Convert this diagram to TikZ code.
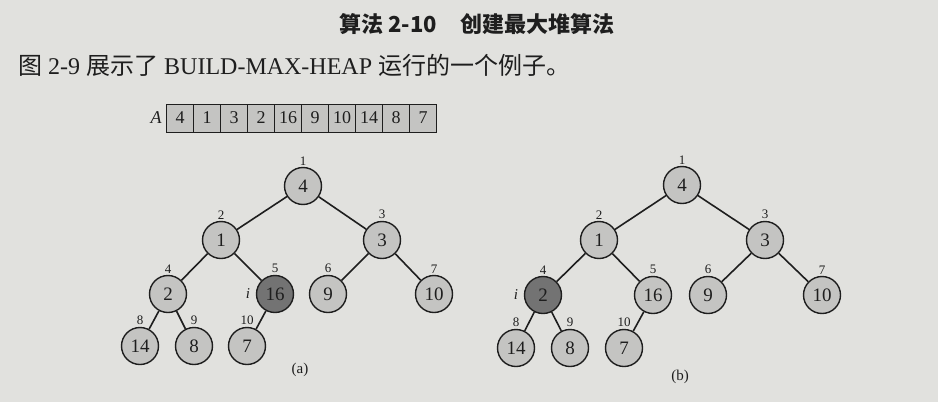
\documentclass[tikz,border=0pt]{standalone}
\usepackage{fontspec}
\setmainfont{Liberation Serif}
\newfontfamily\cjk{Noto Sans CJK SC}
\usepackage{tikz}
\usetikzlibrary{positioning}

\definecolor{paper}{RGB}{225,225,222}
\definecolor{ink}{RGB}{30,30,30}
\definecolor{keyfill}{RGB}{196,196,194}
\definecolor{hotfill}{RGB}{115,115,115}

\tikzset{
  heapnode/.style={draw=ink, circle, fill=keyfill, minimum size=37pt, inner sep=0pt, line width=1.4pt, text=ink, font=\fontsize{19}{19}\selectfont},
  hotnode/.style={heapnode, fill=hotfill},
  cell/.style={draw=ink, fill=keyfill, minimum width=27pt, minimum height=28pt, inner sep=0pt, outer sep=0pt, line width=1pt, text=ink, font=\fontsize{18}{18}\selectfont},
  idx/.style={text=ink, inner sep=1.5pt, font=\fontsize{13}{13}\selectfont},
  ivar/.style={text=ink, inner sep=1.5pt, label distance=4pt, font=\fontsize{15}{15}\selectfont\itshape},
  edge/.style={draw=ink, line width=1.6pt},
}

\begin{document}
\begin{tikzpicture}[x=1pt, y=-1pt]
			\useasboundingbox[fill=paper] (0,0) rectangle (938,402);

			% heading and text line
			\node[text=ink, font=\fontsize{22}{22}\selectfont] (title) at (477,24) {\cjk\bfseries 算法 2-10\hspace{24pt}创建最大堆算法};
			\node[text=ink, anchor=west, inner sep=0pt, font=\fontsize{24}{24}\selectfont] (intro) at (18,65) {{\cjk 图} 2-9 {\cjk 展示了} BUILD-MAX-HEAP {\cjk 运行的一个例子。}};

			% array A
			\node[cell] (c1) at (180.2,118) {4};
			\node[cell, right=0mm of c1] (c2) {1};
			\node[cell, right=0mm of c2] (c3) {3};
			\node[cell, right=0mm of c3] (c4) {2};
			\node[cell, right=0mm of c4] (c5) {16};
			\node[cell, right=0mm of c5] (c6) {9};
			\node[cell, right=0mm of c6] (c7) {10};
			\node[cell, right=0mm of c7] (c8) {14};
			\node[cell, right=0mm of c8] (c9) {8};
			\node[cell, right=0mm of c9] (c10) {7};
			\node[text=ink, left=5pt of c1, inner sep=0pt, font=\fontsize{18}{18}\selectfont\itshape] (lblA) {A};

			% tree (a)
			\node[heapnode, label={[idx]above:1}] (a1) at (303,186) {4};
			\node[heapnode, label={[idx]above:2}] (a2) at (221,240) {1};
			\node[heapnode, label={[idx]above:3}] (a3) at (382,240) {3};
			\node[heapnode, label={[idx]above:4}] (a4) at (168,294) {2};
			\node[hotnode, label={[idx]above:5}, label={[ivar]left:i}] (a5) at (275,294) {16};
			\node[heapnode, label={[idx]above:6}] (a6) at (328,294) {9};
			\node[heapnode, label={[idx]above:7}] (a7) at (434,294) {10};
			\node[heapnode, label={[idx]above:8}] (a8) at (140,346) {14};
			\node[heapnode, label={[idx]above:9}] (a9) at (194,346) {8};
			\node[heapnode, label={[idx]above:10}] (a10) at (247,346) {7};
			\node[text=ink, font=\fontsize{15}{15}\selectfont] (capa) at (300,370) {(a)};

			\draw[edge] (a1) -- (a2);
			\draw[edge] (a1) -- (a3);
			\draw[edge] (a2) -- (a4);
			\draw[edge] (a2) -- (a5);
			\draw[edge] (a3) -- (a6);
			\draw[edge] (a3) -- (a7);
			\draw[edge] (a4) -- (a8);
			\draw[edge] (a4) -- (a9);
			\draw[edge] (a5) -- (a10);

			% tree (b)
			\node[heapnode, label={[idx]above:1}] (b1) at (682,185) {4};
			\node[heapnode, label={[idx]above:2}] (b2) at (599,240) {1};
			\node[heapnode, label={[idx]above:3}] (b3) at (765,240) {3};
			\node[hotnode, label={[idx]above:4}, label={[ivar]left:i}] (b4) at (543,295) {2};
			\node[heapnode, label={[idx]above:5}] (b5) at (653,295) {16};
			\node[heapnode, label={[idx]above:6}] (b6) at (708,295) {9};
			\node[heapnode, label={[idx]above:7}] (b7) at (822,295) {10};
			\node[heapnode, label={[idx]above:8}] (b8) at (516,348) {14};
			\node[heapnode, label={[idx]above:9}] (b9) at (570,348) {8};
			\node[heapnode, label={[idx]above:10}] (b10) at (624,348) {7};
			\node[text=ink, font=\fontsize{15}{15}\selectfont] (capb) at (680,377) {(b)};

			\draw[edge] (b1) -- (b2);
			\draw[edge] (b1) -- (b3);
			\draw[edge] (b2) -- (b4);
			\draw[edge] (b2) -- (b5);
			\draw[edge] (b3) -- (b6);
			\draw[edge] (b3) -- (b7);
			\draw[edge] (b4) -- (b8);
			\draw[edge] (b4) -- (b9);
			\draw[edge] (b5) -- (b10);

		\end{tikzpicture}
\end{document}
